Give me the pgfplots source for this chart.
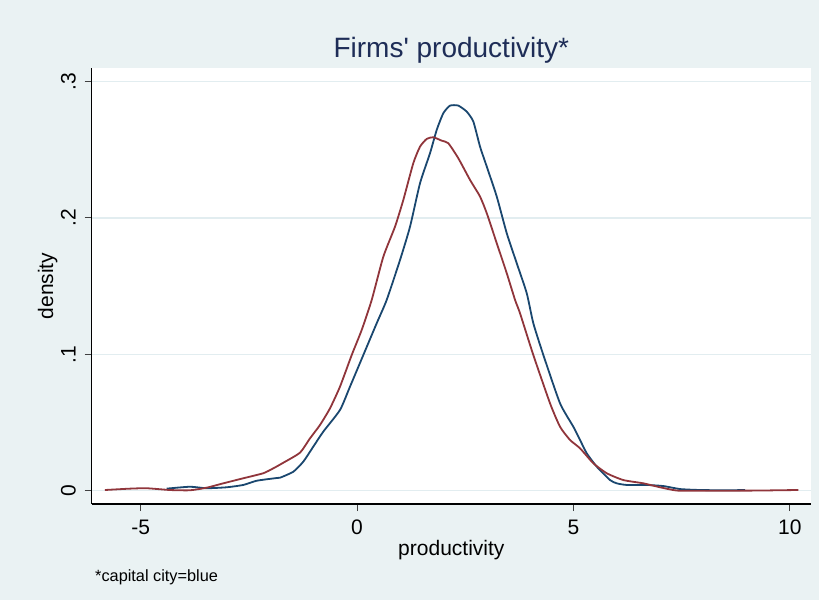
\documentclass[border=0pt]{standalone}
\usepackage{fontspec}
\setmainfont{Liberation Sans}
\usepackage{pgfplots}
\pgfplotsset{compat=1.18}

\definecolor{stbg}{HTML}{EAF2F3}
\definecolor{stgrid}{HTML}{E2EDF0}
\definecolor{stnavy}{HTML}{1A476F}
\definecolor{stmaroon}{HTML}{90353B}
\definecolor{sttitle}{HTML}{1E2D57}

% kernel density of productivity, capital city firms
\pgfplotstableread{
x y
-4.398 0.0015
-3.860 0.0029
-3.474 0.0018
-3.011 0.0025
-2.628 0.0042
-2.318 0.0073
-1.856 0.0093
-1.780 0.0095
-1.472 0.0139
-1.241 0.0213
-1.010 0.0323
-0.779 0.0433
-0.393 0.0592
-0.162 0.0763
0.146 0.0995
0.455 0.1228
0.686 0.1399
0.994 0.1692
1.225 0.1936
1.456 0.2255
1.687 0.2475
1.842 0.2646
1.994 0.2768
2.149 0.2824
2.341 0.2824
2.535 0.2780
2.688 0.2707
2.843 0.2523
2.998 0.2377
3.229 0.2157
3.460 0.1888
3.691 0.1668
3.922 0.1448
4.074 0.1228
4.306 0.0995
4.691 0.0641
4.999 0.0469
5.153 0.0372
5.309 0.0274
5.540 0.0176
5.847 0.0078
6.002 0.0054
6.233 0.0042
6.695 0.0042
7.079 0.0034
7.465 0.0012
7.927 0.0005
8.544 0.0003
8.967 0.0005
}\capital

% kernel density of productivity, other firms
\pgfplotstableread{
x y
-5.824 0.0005
-5.246 0.0015
-4.860 0.0018
-4.322 0.0005
-3.860 0.0003
-3.474 0.0022
-3.090 0.0054
-2.628 0.0091
-2.166 0.0128
-1.934 0.0164
-1.703 0.0205
-1.317 0.0279
-1.086 0.0384
-0.855 0.0482
-0.624 0.0604
-0.393 0.0763
-0.122 0.0995
0.109 0.1179
0.340 0.1399
0.608 0.1716
0.878 0.1936
1.070 0.2132
1.301 0.2402
1.456 0.2523
1.611 0.2580
1.763 0.2592
1.957 0.2567
2.110 0.2548
2.341 0.2438
2.612 0.2279
2.843 0.2157
2.998 0.2035
3.229 0.1815
3.460 0.1595
3.652 0.1399
3.767 0.1301
4.074 0.0995
4.460 0.0641
4.691 0.0469
4.922 0.0372
5.153 0.0311
5.461 0.0201
5.770 0.0128
6.154 0.0078
6.617 0.0054
7.003 0.0025
7.389 0.0001
7.927 0.0000
8.544 0.0000
9.314 0.0001
9.700 0.0003
10.199 0.0005
}\other

\begin{document}
\begin{tikzpicture}
\useasboundingbox (0pt,0pt) rectangle (819pt,600pt);
\fill[stbg] (0pt,0pt) rectangle (819pt,600pt);
\begin{axis}[
  at={(91.7pt,96pt)}, anchor=south west,
  scale only axis, width=719.3pt, height=436pt,
  xmin=-6.13, xmax=10.49, ymin=-0.00976, ymax=0.310,
  axis x line*=bottom, axis y line*=left,
  axis line style={black, line width=1.2pt, -},
  axis background/.style={fill=white},
  xtick={-5,0,5,10}, xticklabels={-5,0,5,10},
  ytick={0,0.1,0.2,0.3}, yticklabels={0,.1,.2,.3},
  tick align=outside, major tick length=7pt,
  tick style={black!75, line width=1pt},
  ymajorgrids, grid style={stgrid, line width=1.5pt},
  /pgf/number format/assume math mode=true,
  ticklabel style={font=\fontsize{21}{24}\selectfont, black},
  xticklabel style={anchor=base, yshift=-23pt},
  yticklabel style={rotate=90, anchor=base},
  yticklabel shift=9pt,
  every axis title/.style={at={(axis description cs:0.5,1.02454)}, anchor=base,
    font=\fontsize{28}{33}\selectfont, text=sttitle},
  every axis x label/.style={at={(axis description cs:0.5,-0.11697)}, anchor=base,
    font=\fontsize{21}{24}\selectfont},
  every axis y label/.style={at={(axis description cs:-0.0538,0.5)}, rotate=90, anchor=base,
    font=\fontsize{21}{24}\selectfont},
  title={Firms\textquotesingle{} productivity*},
  xlabel={productivity}, ylabel={density},
  clip=false,
]
\addplot[stnavy, line width=1.8pt, smooth, tension=0.35, line join=round] table {\capital};
\addplot[stmaroon, line width=1.8pt, smooth, tension=0.35, line join=round] table {\other};
\end{axis}
\node[anchor=base west, inner sep=0pt, font=\fontsize{16.3}{19}\selectfont] at (95pt,19pt) {*capital city=blue};
\end{tikzpicture}
\end{document}
